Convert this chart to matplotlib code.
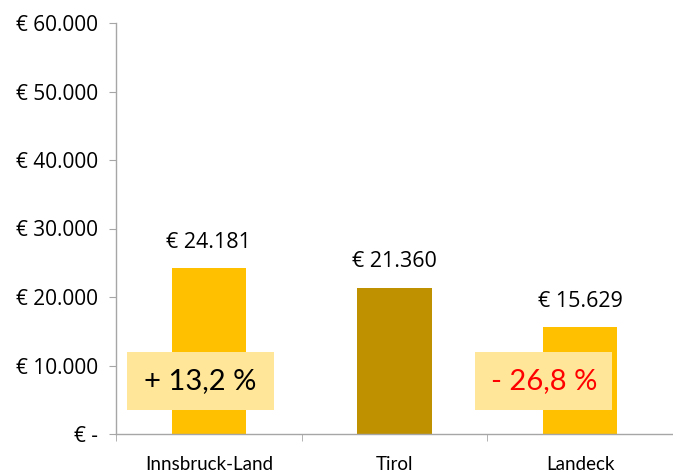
import matplotlib
matplotlib.use("Agg")
import matplotlib.pyplot as plt
from matplotlib.patches import Rectangle

categories = ["Innsbruck-Land", "Tirol", "Landeck"]
values = [24181, 21360, 15629]
value_labels = ["€ 24.181", "€ 21.360", "€ 15.629"]
yticks = [0, 10000, 20000, 30000, 40000, 50000, 60000]
ytick_labels = ["€ -", "€ 10.000", "€ 20.000", "€ 30.000", "€ 40.000", "€ 50.000", "€ 60.000"]
change_labels = ["+ 13,2 %", "- 26,8 %"]
change_cats = [0, 2]
change_colors = ["#000000", "#FF0000"]
bar_colors = ["#FFC000", "#BF9000", "#FFC000"]

plt.rcParams['font.family'] = ['Lato', 'DejaVu Sans']

fig = plt.figure(figsize=(6.73, 4.75), dpi=100)
W, H = 673, 475
ax = fig.add_axes([116 / W, 1 - 434 / H, (673 - 116) / W, (434 - 23) / H])

x = list(range(len(categories)))
ax.bar(x, values, width=0.4, color=bar_colors, zorder=2)

ax.set_xlim(-0.5, -0.5 + (673 - 116) / 187)
ax.set_ylim(0, 60000)

ax.set_yticks(yticks)
ax.set_yticklabels(ytick_labels, fontsize=15, family=['Open Sans', 'DejaVu Sans'])
ax.set_xticks(x)
ax.set_xticklabels(categories, fontsize=13.5)
ax.tick_params(axis='x', length=0, pad=16)
ax.set_xticks([-0.5, 0.5, 1.5, 2.5], minor=True)
ax.tick_params(axis='x', which='minor', length=5, color='#A6A6A6', direction='out')
ax.tick_params(axis='y', length=5, color='#A6A6A6', direction='out', pad=8)

for s in ['top', 'right']:
    ax.spines[s].set_visible(False)
for s in ['left', 'bottom']:
    ax.spines[s].set_color('#A6A6A6')
    ax.spines[s].set_linewidth(1.0)

for xi, v, lab in zip(x, values, value_labels):
    ax.annotate(lab, (xi, v), xytext=(0, 11), textcoords='offset points',
                ha='center', va='bottom', fontsize=15.5,
                family=['Open Sans', 'DejaVu Sans'])

box_x0 = [-0.441, 1.435]
box_x1 = [0.350, 2.173]
box_y0, box_y1 = 3504, 11971
for ci, lab, col, x0, x1 in zip(change_cats, change_labels, change_colors, box_x0, box_x1):
    ax.add_patch(Rectangle((x0, box_y0), x1 - x0, box_y1 - box_y0,
                           facecolor='#FFE699', edgecolor='none', zorder=3))
    ax.text((x0 + x1) / 2, (box_y0 + box_y1) / 2, lab, ha='center', va='center',
            fontsize=21, color=col, zorder=4)

fig.savefig("out.png", dpi=100)
